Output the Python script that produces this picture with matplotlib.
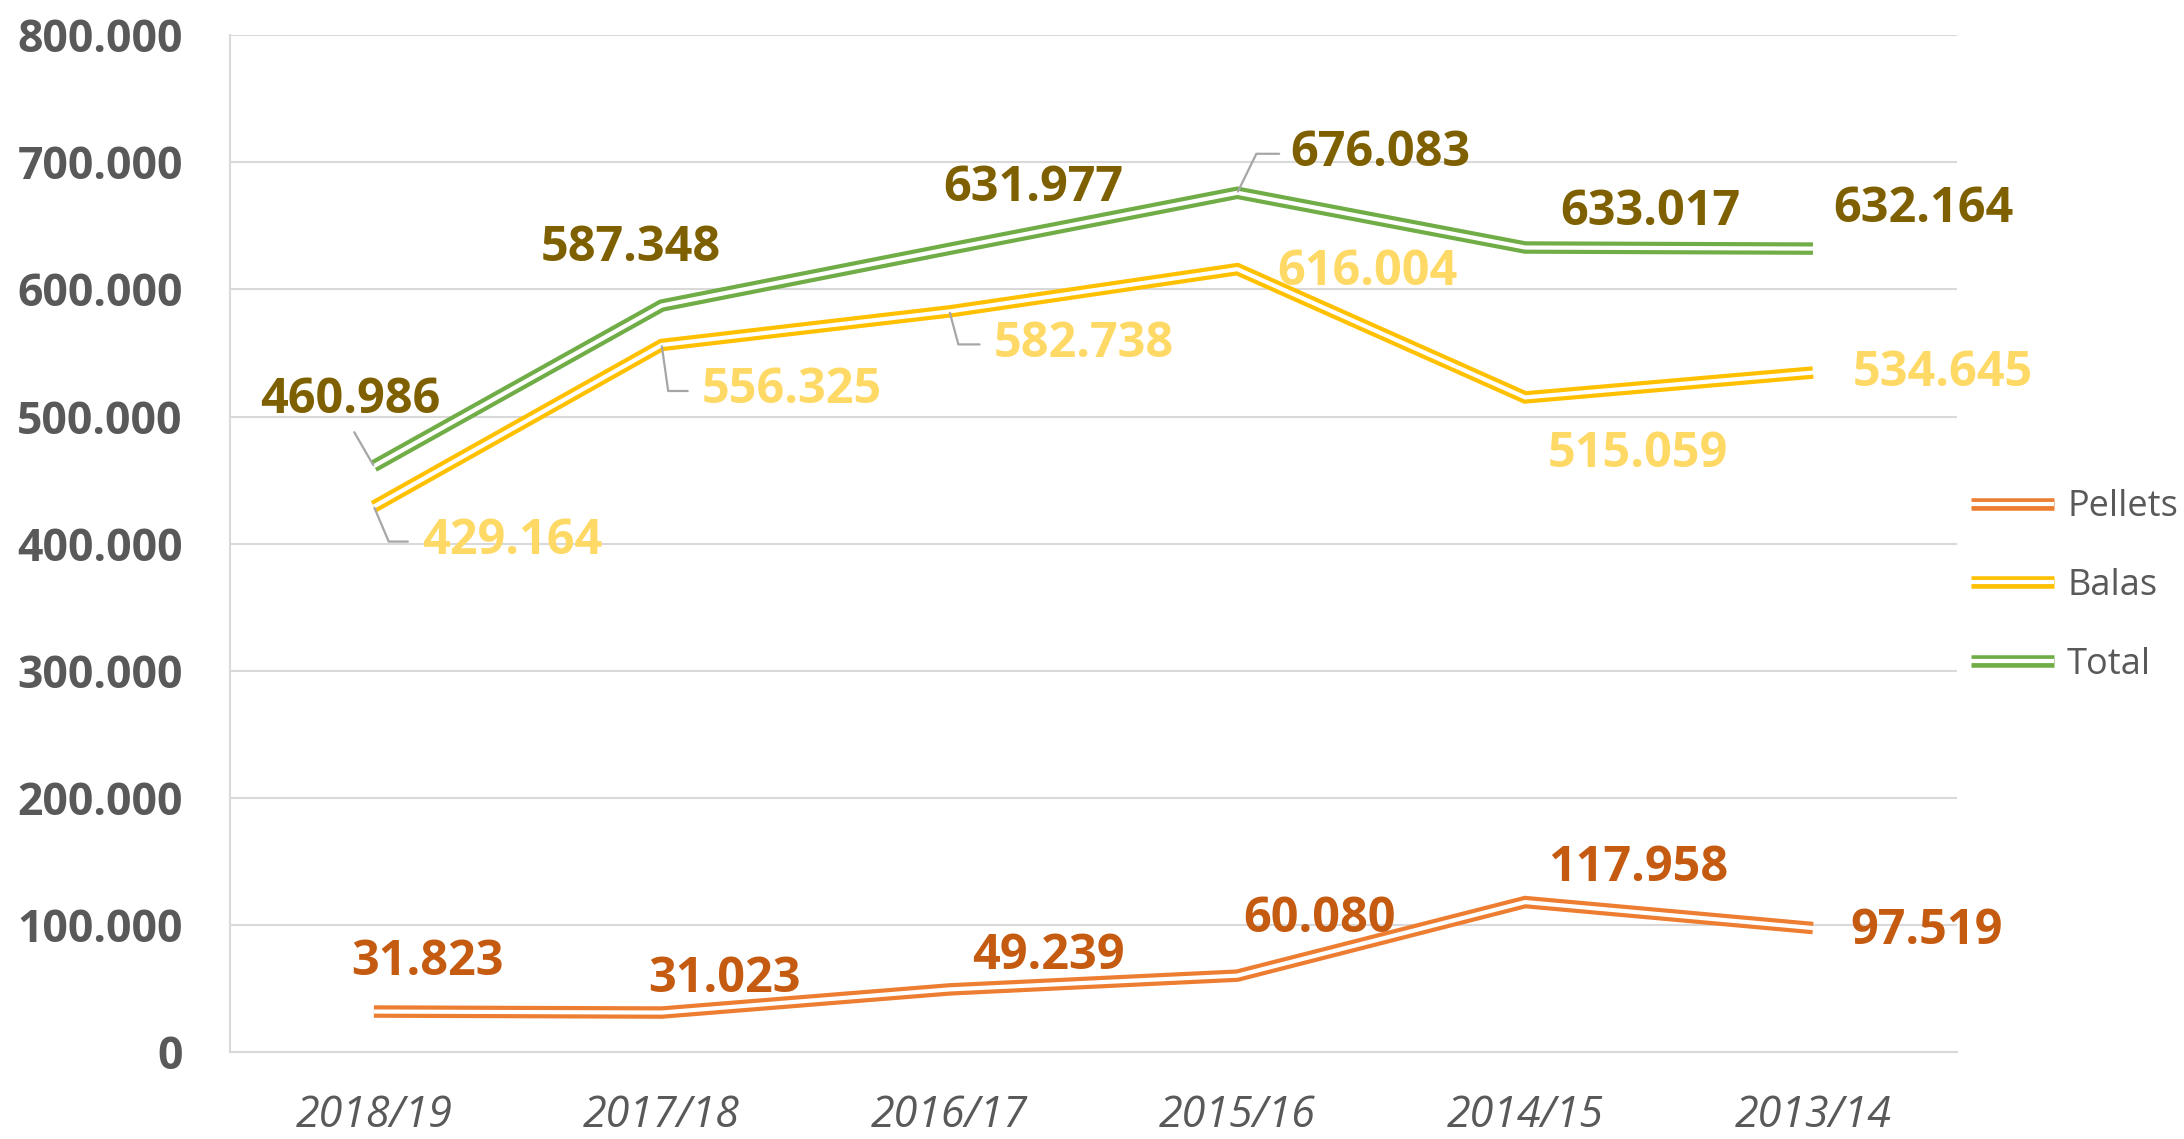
import matplotlib
matplotlib.use('Agg')
import matplotlib.pyplot as plt
import matplotlib.patheffects as pe
import numpy as np

seasons = ['2018/19', '2017/18', '2016/17', '2015/16', '2014/15', '2013/14']
pellets = [31823, 31023, 49239, 60080, 117958, 97519]
balas = [429164, 556325, 582738, 616004, 515059, 534645]
total = [460986, 587348, 631977, 676083, 633017, 632164]

# data label offsets from the point (pixels)
pellets_off = [(54, 49), (63, 33), (99, 33), (82, 56), (113, 34), (114, -3)]
balas_off = [(138, -35), (130, -46), (134, -33), (130, -3), (113, -57), (130, -1)]
total_off = [(-24, 66), (-31, 57), (84, 60), (143, 39), (125, 35), (110, 39)]

# leader lines (series, index) -> (relpos, connectionstyle, shrinkA)
leaders = {
    ('total', 0): ((0.5, 0.0), 'arc3', 4),
    ('total', 3): ((0.0, 0.5), 'angle,angleA=0,angleB=64,rad=0', 6),
    ('balas', 0): ((0.0, 0.5), 'angle,angleA=0,angleB=-67,rad=0', 8),
    ('balas', 1): ((0.0, 0.5), 'angle,angleA=0,angleB=-82,rad=0', 8),
    ('balas', 2): ((0.0, 0.5), 'angle,angleA=0,angleB=-75,rad=0', 8),
}

def fmt(v):
    if v == 0:
        return '0'
    return '{:,}'.format(int(v)).replace(',', '.')

plt.rcParams['font.family'] = ['Open Sans', 'DejaVu Sans']

fig = plt.figure(figsize=(21.84, 11.39), dpi=100)
ax = fig.add_axes([0.1053, 0.0764, 0.896 - 0.1053, 0.969 - 0.0764])

x = np.arange(len(seasons))
series = [
    ('Pellets', 'pellets', pellets, '#ED7D31', '#C55A11', pellets_off),
    ('Balas', 'balas', balas, '#FFC000', '#FFD966', balas_off),
    ('Total', 'total', total, '#70AD47', '#7F6000', total_off),
]

for name, key, vals, col, lcol, offs in series:
    ax.plot(x, vals, color='white', lw=3, label=name, solid_joinstyle='miter',
            solid_capstyle='butt',
            path_effects=[pe.Stroke(linewidth=9, foreground=col, capstyle='butt'),
                          pe.Normal()])
    for i, v in enumerate(vals):
        kw = {}
        if (key, i) in leaders:
            relpos, cs, sa = leaders[(key, i)]
            kw['arrowprops'] = dict(arrowstyle='-', color='#A6A6A6', lw=1.6,
                                    connectionstyle=cs, relpos=relpos,
                                    shrinkA=sa, shrinkB=1)
        ax.annotate(fmt(v), xy=(i, v), xytext=offs[i], textcoords='offset pixels',
                    ha='center', va='center', fontsize=35, fontweight='bold',
                    color=lcol, **kw)

ax.set_xlim(-0.5, 5.5)
ax.set_ylim(0, 800000)
ax.set_yticks(np.arange(0, 800001, 100000))
ax.set_yticklabels([fmt(v) for v in np.arange(0, 800001, 100000)])
ax.set_xticks(x)
ax.set_xticklabels(seasons, fontstyle='italic')

ax.tick_params(axis='y', length=0, pad=34, labelsize=32, labelcolor='#595959')
ax.tick_params(axis='x', length=0, pad=30, labelsize=31, labelcolor='#595959')
for lab in ax.get_yticklabels():
    lab.set_fontweight('bold')

ax.grid(axis='y', color='#D9D9D9', lw=1.5)
ax.set_axisbelow(True)
for s in ['top', 'right']:
    ax.spines[s].set_visible(False)
ax.spines['left'].set_color('#D9D9D9')
ax.spines['bottom'].set_color('#D9D9D9')
ax.spines['left'].set_linewidth(1.5)
ax.spines['bottom'].set_linewidth(1.5)

leg = fig.legend(loc='center left', bbox_to_anchor=(0.9025, 0.4855), frameon=False,
                 fontsize=26, handlelength=2.3, handletextpad=0.36,
                 labelspacing=1.18, borderpad=0, borderaxespad=0)
for t in leg.get_texts():
    t.set_color('#595959')

fig.savefig('out.png', dpi=100)
